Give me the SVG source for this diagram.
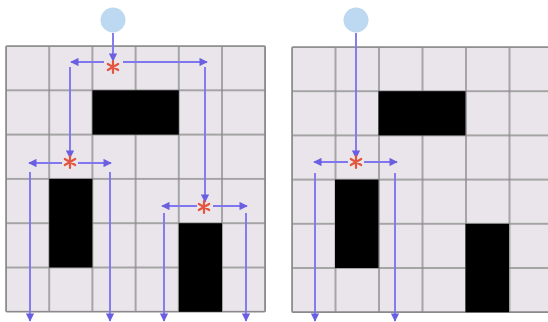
<svg xmlns="http://www.w3.org/2000/svg" width="548" height="322" viewBox="0 0 548 322">
<style>
.blk{fill:#000}
.src{fill:#bcd9f1}
.arr{stroke:#8077ee;stroke-width:1.9;fill:none}
.star{stroke:#e4553f;stroke-width:2.2;stroke-linecap:round;fill:none}
</style>
<defs>
<marker id="ah" viewBox="0 0 10 10" refX="9" refY="5" markerWidth="4.4" markerHeight="4.4" orient="auto" markerUnits="strokeWidth">
<path d="M0,0 L10,5 L0,10 z" fill="#6a5fe0"/>
</marker>
<pattern id="gl" x="6" y="46" width="43.2" height="44.3" patternUnits="userSpaceOnUse">
<rect width="43.2" height="44.3" fill="#e9e5ea" stroke="#8a8a8a" stroke-width="1.4"/>
</pattern>
<pattern id="gr" x="292" y="47" width="43.5" height="44.2" patternUnits="userSpaceOnUse">
<rect width="43.5" height="44.2" fill="#e9e5ea" stroke="#8a8a8a" stroke-width="1.4"/>
</pattern>
<path id="st" d="M0,-6 V6 M-5.2,-3 L5.2,3 M-5.2,3 L5.2,-3"/>
</defs>
<rect width="548" height="322" fill="#ffffff"/>

<g id="grid-left">
<rect x="6" y="46" width="259.2" height="265.8" fill="url(#gl)" stroke="#8a8a8a" stroke-width="1.6" rx="1"/>
</g>
<g id="grid-right">
<rect x="292" y="47" width="261" height="265.2" fill="url(#gr)" stroke="#8a8a8a" stroke-width="1.6" rx="1"/>
</g>

<g id="obstacles-left">
<rect class="blk" x="92.4" y="90.3" width="86.4" height="44.3"/>
<rect class="blk" x="49.2" y="178.9" width="43.2" height="88.6"/>
<rect class="blk" x="178.8" y="223.2" width="43.2" height="88.6"/>
</g>
<g id="obstacles-right">
<rect class="blk" x="378.5" y="91.2" width="87" height="44.2"/>
<rect class="blk" x="335" y="179.6" width="43.5" height="88.4"/>
<rect class="blk" x="465.5" y="223.8" width="43.5" height="88.4"/>
</g>

<g id="connectors">
<line class="arr" x1="113" y1="33" x2="113" y2="61" marker-end="url(#ah)"/>
<line class="arr" x1="104" y1="62" x2="71" y2="62" marker-end="url(#ah)"/>
<line class="arr" x1="123" y1="62" x2="207" y2="62" marker-end="url(#ah)"/>
<line class="arr" x1="70" y1="67" x2="70" y2="158" marker-end="url(#ah)"/>
<line class="arr" x1="205" y1="67" x2="205" y2="202" marker-end="url(#ah)"/>
<line class="arr" x1="62" y1="163" x2="29" y2="163" marker-end="url(#ah)"/>
<line class="arr" x1="78" y1="163" x2="111" y2="163" marker-end="url(#ah)"/>
<line class="arr" x1="30" y1="172" x2="30" y2="321" marker-end="url(#ah)"/>
<line class="arr" x1="110" y1="172" x2="110" y2="321" marker-end="url(#ah)"/>
<line class="arr" x1="197" y1="206" x2="162" y2="206" marker-end="url(#ah)"/>
<line class="arr" x1="213" y1="206" x2="247" y2="206" marker-end="url(#ah)"/>
<line class="arr" x1="164" y1="213" x2="164" y2="321" marker-end="url(#ah)"/>
<line class="arr" x1="246" y1="213" x2="246" y2="321" marker-end="url(#ah)"/>
<line class="arr" x1="356" y1="33" x2="356" y2="158" marker-end="url(#ah)"/>
<line class="arr" x1="348" y1="162" x2="314" y2="162" marker-end="url(#ah)"/>
<line class="arr" x1="364" y1="162" x2="397" y2="162" marker-end="url(#ah)"/>
<line class="arr" x1="315" y1="173" x2="315" y2="321" marker-end="url(#ah)"/>
<line class="arr" x1="395" y1="173" x2="395" y2="321" marker-end="url(#ah)"/>
</g>

<g id="source-left"><circle class="src" cx="113" cy="20" r="12.5"/></g>
<g id="source-right"><circle class="src" cx="356" cy="20" r="12.5"/></g>

<g id="split-left-1"><use href="#st" class="star" x="113" y="67"/></g>
<g id="split-left-2"><use href="#st" class="star" x="70" y="162"/></g>
<g id="split-left-3"><use href="#st" class="star" x="204" y="207"/></g>
<g id="split-right-1"><use href="#st" class="star" x="356" y="162"/></g>
</svg>
